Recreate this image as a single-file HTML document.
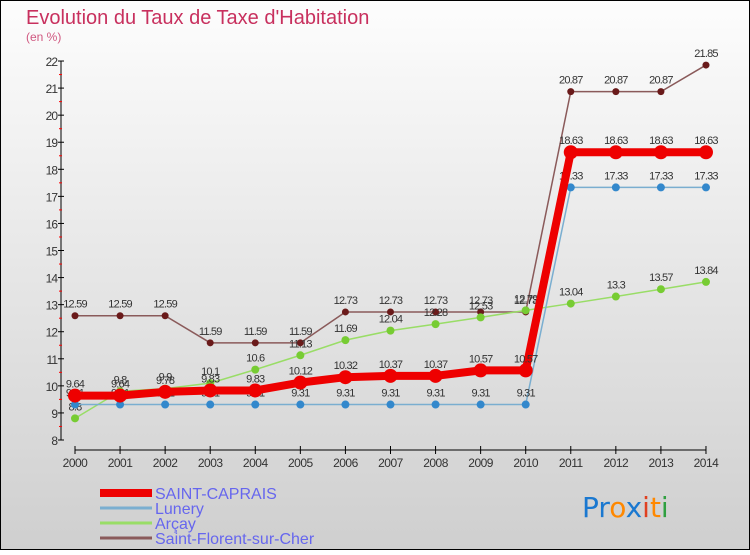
<!DOCTYPE html>
<html><head><meta charset="utf-8"><style>
body{margin:0;width:750px;height:550px;overflow:hidden;font-family:"Liberation Sans",sans-serif}
</style></head><body>
<svg id="c" width="750" height="550" xmlns="http://www.w3.org/2000/svg">
<defs><linearGradient id="bg" x1="0" y1="0" x2="0" y2="1"><stop offset="0" stop-color="#fdfdfd"/><stop offset="1" stop-color="#cfcfcf"/></linearGradient></defs>
<rect x="0.5" y="0.5" width="749" height="549" fill="url(#bg)" stroke="#000"/>
<text x="26" y="24" font-size="20" fill="#c8305e">Evolution du Taux de Taxe d'Habitation</text>
<text x="26" y="41" font-size="12" fill="#d05880">(en %)</text>
<g id="axes"></g><g id="series"></g>
<g>
<line x1="100" y1="493" x2="152" y2="493" stroke="#e00" stroke-width="8"/>
<text x="155" y="499" font-size="16" fill="#6666ee">SAINT-CAPRAIS</text>
<line x1="100" y1="508" x2="152" y2="508" stroke="#7aaed0" stroke-width="3"/>
<text x="155" y="514" font-size="16" fill="#6666ee">Lunery</text>
<line x1="100" y1="523" x2="152" y2="523" stroke="#99dd66" stroke-width="3"/>
<text x="155" y="529" font-size="16" fill="#6666ee">Arçay</text>
<line x1="100" y1="538" x2="152" y2="538" stroke="#8a5a5a" stroke-width="3"/>
<text x="155" y="544" font-size="16" fill="#6666ee">Saint-Florent-sur-Cher</text>
</g>
<text x="582" y="517" font-size="28" font-family="DejaVu Sans"><tspan fill="#1a78d0">Pr</tspan><tspan fill="#ff8800">o</tspan><tspan fill="#1a78d0">x</tspan><tspan fill="#e04020">i</tspan><tspan fill="#ff8800">t</tspan><tspan fill="#30a040">i</tspan></text>
</svg>
<script>
const years=[2000,2001,2002,2003,2004,2005,2006,2007,2008,2009,2010,2011,2012,2013,2014];
const yTicks=[8,9,10,11,12,13,14,15,16,17,18,19,20,21,22];
const stCaprais=[9.64,9.64,9.78,9.83,9.83,10.12,10.32,10.37,10.37,10.57,10.57,18.63,18.63,18.63,18.63];
const lunery=[9.31,9.31,9.31,9.31,9.31,9.31,9.31,9.31,9.31,9.31,9.31,17.33,17.33,17.33,17.33];
const arcay=[8.8,9.8,9.9,10.1,10.6,11.13,11.69,12.04,12.28,12.53,12.79,13.04,13.3,13.57,13.84];
const stFlorent=[12.59,12.59,12.59,11.59,11.59,11.59,12.73,12.73,12.73,12.73,12.73,20.87,20.87,20.87,21.85];
const NS="http://www.w3.org/2000/svg";
const X=i=>75+i*45.07, Y=v=>440-(v-8)*27.07;
function mk(p,t,a){const e=document.createElementNS(NS,t);for(const k in a)e.setAttribute(k,a[k]);p.appendChild(e);return e;}
const ax=document.getElementById('axes');
let l=mk(ax,'line',{x1:61,y1:61,x2:61,y2:440,stroke:'#000','stroke-width':1});


l=mk(ax,'line',{x1:75,y1:450,x2:706,y2:450,stroke:'#000','stroke-width':1});


yTicks.forEach(v=>{
 mk(ax,'line',{x1:58,y1:Y(v),x2:64,y2:Y(v),stroke:'#000'});
 if(v<22) mk(ax,'line',{x1:59,y1:Y(v+0.5),x2:62,y2:Y(v+0.5),stroke:'#f00'});
 const t=mk(ax,'text',{x:57,y:Y(v)+5,'font-size':12,fill:'#333','text-anchor':'end','letter-spacing':'-1'});t.textContent=v;
 
 
});
years.forEach((y,i)=>{
 mk(ax,'line',{x1:X(i),y1:446,x2:X(i),y2:454,stroke:'#000'});
 const t=mk(ax,'text',{x:X(i),y:467,'font-size':12,fill:'#333','text-anchor':'middle','letter-spacing':'-0.5'});t.textContent=y;
 
 
});
const sg=document.getElementById('series');
function draw(vals,name,col,dot,w,r){
 const g=mk(sg,'g',{});
 
 
 mk(g,'polyline',{points:vals.map((v,i)=>X(i)+','+Y(v)).join(' '),fill:'none',stroke:col,'stroke-width':w});
 vals.forEach((v,i)=>{
  const c=mk(g,'circle',{cx:X(i),cy:Y(v),r:r,fill:dot});
  
  
  const t=mk(g,'text',{x:X(i),y:Y(v)-8,'font-size':11,fill:'#333','text-anchor':'middle','letter-spacing':'-0.8'});t.textContent=v;
  
  
 });
}
draw(stFlorent,'saint-florent-series','#8a5a5a','#6a1a1a',1.5,3.5);
draw(arcay,'arcay-series','#99dd66','#77cc33',1.5,4);
draw(lunery,'lunery-series','#7aaed0','#3388cc',1.5,4);
draw(stCaprais,'saint-caprais-series','#ee0000','#ee0000',8,7);
</script>
</body></html>
